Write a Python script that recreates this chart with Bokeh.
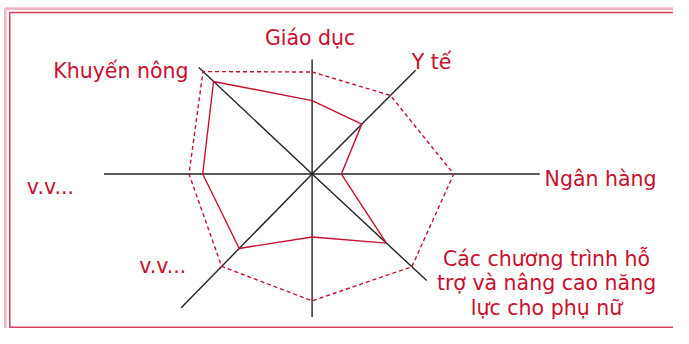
import math
from bokeh.plotting import figure
from bokeh.models import Range1d, BoxAnnotation, ColumnDataSource
from bokeh.core.properties import value
from bokeh.embed import file_html
from bokeh.resources import INLINE

# ---- data ----
categories = [
    "Giáo dục",
    "Y tế",
    "Ngân hàng",
    "Các chương trình hỗ\ntrợ và nâng cao năng\nlực cho phụ nữ",
    "",
    "v.v...",
    "v.v...",
    "Khuyến nông",
]
axis_length = [120, 152, 233, 162, 150, 194, 213, 161]
outer_values = [107, 115, 145, 141, 133, 134, 126, 155]
inner_values = [77, 73, 30, 105, 66, 108, 112, 140]

# ---- layout ----
axis_angle_deg = [90, 45.8, 0, -43.6, -90, -133.7, 180, 136.1]
# label anchor (x, y of first baseline) and alignment
label_pos = [
    (-2, 143, "center"),
    (102, 118, "left"),
    (238, -5, "left"),
    (240, -89, "center"),
    (0, 0, "center"),
    (-177, -96, "left"),
    (-292, -14, "left"),
    (-265, 108, "left"),
]
line_step = 25.5

RED = "#c8102e"
FONT = "DejaVu Sans"

W, H = 673, 328
X0, X1 = -319, 370
Y0, Y1 = -162, 182
p = figure(width=W, height=H,
           x_range=Range1d(X0, X1), y_range=Range1d(Y0, Y1),
           output_backend="svg", toolbar_location=None,
           x_axis_location=None, y_axis_location=None,
           min_border=0, min_border_left=0, min_border_right=0,
           min_border_top=0, min_border_bottom=0)
p.grid.visible = False
p.outline_line_color = None
p.background_fill_color = "white"
p.border_fill_color = "white"

def pts(radii):
    xs, ys = [], []
    for r, a in zip(radii, axis_angle_deg):
        t = math.radians(a)
        xs.append(r * math.cos(t))
        ys.append(r * math.sin(t))
    return xs, ys

# axes
ax_x, ax_y = pts(axis_length)
p.segment(x0=[0] * len(ax_x), y0=[0] * len(ax_y), x1=ax_x, y1=ax_y,
          line_color="#222222", line_width=1.4)

# outer (dashed) polygon
ox, oy = pts(outer_values)
p.line(ox + ox[:1], oy + oy[:1], line_color=RED, line_width=1.4, line_dash="4 3")

# inner (solid) polygon
ix, iy = pts(inner_values)
p.line(ix + ix[:1], iy + iy[:1], line_color=RED, line_width=1.4)

# labels
tx, ty, tt, ta = [], [], [], []
for lab, (x, y, al) in zip(categories, label_pos):
    if not lab:
        continue
    for k, line in enumerate(lab.split("\n")):
        tx.append(x)
        ty.append(y - k * line_step)
        tt.append(line)
        ta.append(al)
src = ColumnDataSource(dict(x=tx, y=ty, text=tt, align=ta))
p.text(x="x", y="y", text="text", text_align="align", source=src,
       text_baseline="alphabetic", text_color=RED,
       text_font=value(FONT), text_font_size="20.5px")

# double red frame
p.add_layout(BoxAnnotation(left=X0 + 5, right=X1 + 50,
                           top=Y1 - 8.5, bottom=Y0 - 50,
                           fill_alpha=0, line_color=RED, line_width=2.6))
p.add_layout(BoxAnnotation(left=X0 + 9.5, right=X1 + 50,
                           top=Y1 - 12.5, bottom=Y0 + 1.2,
                           fill_alpha=0, line_color=RED, line_alpha=0.8,
                           line_width=1.5))

open("out.html", "w").write(file_html(p, INLINE))
